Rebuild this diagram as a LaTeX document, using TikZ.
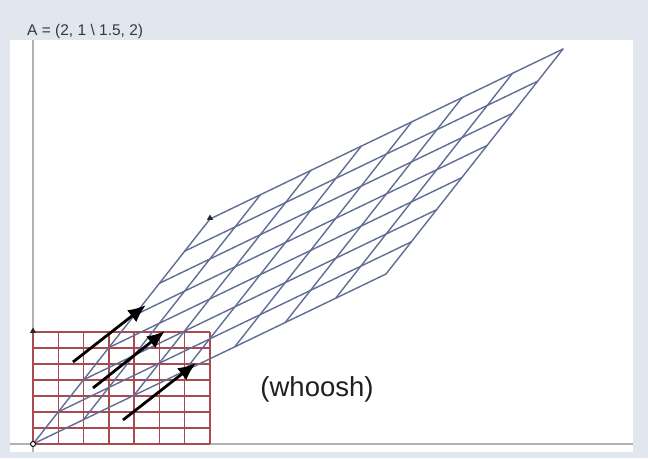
\documentclass[tikz,border=0pt]{standalone}
\usepackage{fontspec}
\setmainfont{Liberation Sans}
\usetikzlibrary{arrows.meta,shapes.geometric}
\definecolor{bgband}{RGB}{226,231,239}
\definecolor{gridred}{RGB}{168,74,80}
\definecolor{gridblue}{RGB}{96,110,148}
\definecolor{axisgrey}{RGB}{178,178,182}
\definecolor{labelgrey}{RGB}{55,55,58}
\begin{document}
\begin{tikzpicture}[x=1pt,y=-1pt,
  redline/.style={draw=gridred,line width=1.4pt},
  blueline/.style={draw=gridblue,line width=1.4pt,line cap=round},
  axisline/.style={draw=axisgrey,line width=1.2pt},
  motion/.style={draw=black,line width=2.8pt,-{Latex[length=18pt,width=15pt]}},
  trimark/.style={regular polygon,regular polygon sides=3,fill=black!85,inner sep=0pt,minimum size=7pt},
  originmark/.style={circle,draw=black,fill=white,line width=0.9pt,inner sep=0pt,minimum size=5pt}]
% background and panel
\fill[bgband] (0,0) rectangle (648,458);
\fill[white] (10,40) rectangle (633,452);
\useasboundingbox (0,0) rectangle (648,458);
% axes
\coordinate (xl) at (10,444);
\coordinate (xr) at (633,444);
\coordinate (yt) at (33,40);
\coordinate (yb) at (33,452);
\draw[axisline] (xl) -- (xr);
\draw[axisline] (yt) -- (yb);
% red grid (original)
\foreach \i in {0,...,7}{
  \coordinate (rb\i) at ({33+177/7*\i},444);
  \coordinate (rt\i) at ({33+177/7*\i},332);
  \coordinate (rl\i) at (33,{444-16*\i});
  \coordinate (rr\i) at (210,{444-16*\i});
  \draw[redline] (rb\i) -- (rt\i);
  \draw[redline] (rl\i) -- (rr\i);
}
% blue transformed grid
\foreach \k in {0,...,7}{
  % shallow family: from edge OP to edge RQ
  \coordinate (bsa\k) at ({33+177/7*\k},{444-225/7*\k});
  \coordinate (bsb\k) at ({33+353+177/7*\k},{444-170-225/7*\k});
  % steep family: from edge OR to edge PQ
  \coordinate (bta\k) at ({33+353/7*\k},{444-170/7*\k});
  \coordinate (btb\k) at ({33+177+353/7*\k},{444-225-170/7*\k});
  \draw[blueline] (bsa\k) -- (bsb\k);
  \draw[blueline] (bta\k) -- (btb\k);
}
% markers
\node[trimark] (m1) at (33,331) {};
\node[trimark] (m2) at (210,218) {};
\node[originmark] (o) at (33,444) {};
% motion arrows
\coordinate (a1s) at (73,362);
\coordinate (a1e) at (146,305);
\coordinate (a2s) at (93,388);
\coordinate (a2e) at (165,331);
\coordinate (a3s) at (123,420);
\coordinate (a3e) at (196,363);
\draw[motion] (a1s) -- (a1e);
\draw[motion] (a2s) -- (a2e);
\draw[motion] (a3s) -- (a3e);
% texts
\node[anchor=west,inner sep=0pt,text=labelgrey,font=\fontsize{15.5}{17}\selectfont] (lbl) at (27,31) {A = (2, 1 \textbackslash\ 1.5, 2)};
\node[inner sep=0pt,text=black!88,font=\fontsize{27.5}{30}\selectfont] (whoosh) at (317,389) {(whoosh)};
\end{tikzpicture}
\end{document}
